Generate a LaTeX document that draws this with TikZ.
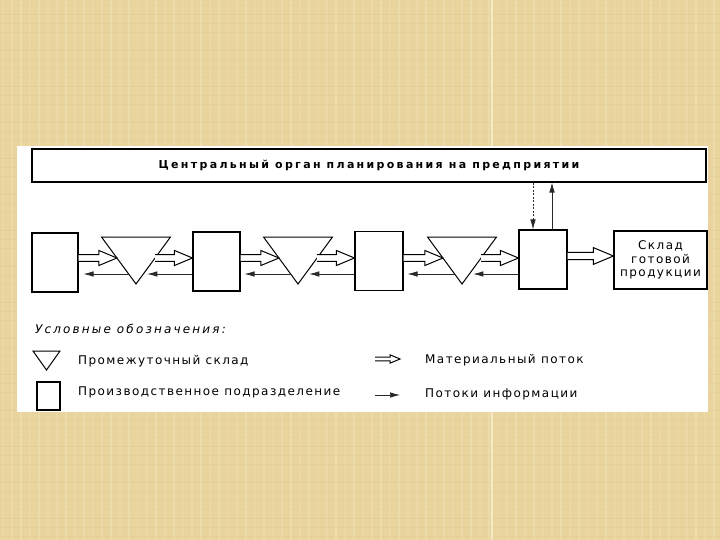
\documentclass[tikz,border=0pt]{standalone}
\usepackage{fontspec}
\setmainfont{DejaVu Sans}
\newfontfamily\diafont{DejaVu Sans}[LetterSpace=12]
\newfontfamily\legitfont{DejaVu Sans}[LetterSpace=18]
\newfontfamily\planfont{DejaVu Sans}[LetterSpace=21]
\usetikzlibrary{arrows.meta,calc}
\definecolor{papyrus}{RGB}{233,212,157}
\definecolor{papyruslight}{RGB}{245,234,198}
\definecolor{papyrusdark}{RGB}{216,189,130}
\definecolor{inkgray}{RGB}{40,40,40}
% hollow material-flow arrow: [head length]{start}{tip}
\newcommand{\matarrow}[3][18]{%
  \draw[matline] ($(#2)+(0,-#1/5.5)$) -- ($(#3)+(-#1,-#1/5.5)$) -- ($(#3)+(-#1,-#1/2.4)$)
    -- (#3) -- ($(#3)+(-#1,#1/2.4)$) -- ($(#3)+(-#1,#1/5.5)$) -- ($(#2)+(0,#1/5.5)$);}

\begin{document}
\begin{tikzpicture}[x=1pt,y=-1pt,
    box/.style={draw=black,line width=1.1pt,fill=white,inner sep=0pt,minimum width=47pt,minimum height=59pt},
    tri/.style={draw=black,line width=1pt,fill=white,line join=miter},
    matline/.style={draw=black,line width=1pt,fill=white,line join=miter},
    info/.style={draw=inkgray,line width=0.7pt,-{Latex[length=10pt,width=5.5pt]}},
    txt/.style={font=\diafont\fontsize{12}{14}\selectfont,anchor=base west,inner sep=0pt}]
  \useasboundingbox (0,0) rectangle (720,540);
  % background
  \fill[papyrus] (0,0) rectangle (720,540);
  \foreach \i in {0,...,79} {
    \pgfmathsetmacro\op{0.15+0.3*mod(\i*7,5)/5}
    \draw[papyruslight,line width=1.2pt,opacity=\op] (\i*9+3,0) -- (\i*9+3,540);
  }
  \foreach \i in {0,...,59} {
    \pgfmathsetmacro\op{0.1+0.2*mod(\i*3,4)/4}
    \draw[papyrusdark,line width=0.8pt,opacity=\op] (0,\i*9+5) -- (720,\i*9+5);
  }
  \draw[papyruslight,line width=2pt] (492,0) -- (492,540);
  \fill[white] (17,146) rectangle (708,412);

  % planning body
  \node[draw=black,line width=1.1pt,fill=white,minimum width=674pt,minimum height=33pt,inner sep=0pt,
        font=\planfont\bfseries\fontsize{11}{13}\selectfont] (plan) at (369,165.5)
        {Центральный орган планирования на предприятии};

  % production units and store
  \node[box,minimum width=46pt] (b1) at (55,262.5) {};
  \node[box] (b2) at (216.5,261.5) {};
  \node[box,minimum width=48pt] (b3) at (379,261) {};
  \node[box,minimum width=48pt] (b4) at (543,259.5) {};
  \node[box,minimum width=93pt,minimum height=58pt,align=center,
        font=\diafont\fontsize{12}{13.5}\selectfont] (sklad) at (660.5,260)
        {Склад\\готовой\\продукции};

  % intermediate stores
  \foreach \n/\cx in {1/136,2/298,3/462} {
    \coordinate (t\n) at (\cx,237);
    \draw[tri] ($(t\n)+(-34.5,0)$) -- ($(t\n)+(34.5,0)$) -- ($(t\n)+(0,47)$) -- cycle;
    \coordinate (t\n-l) at ($(t\n)+(-19.1,21)$);
    \coordinate (t\n-r) at ($(t\n)+(19.1,21)$);
    \coordinate (t\n-il) at ($(t\n)+(-7.3,37)$);
    \coordinate (t\n-ir) at ($(t\n)+(7.3,37)$);
  }

  % material flow
  \matarrow{b1.east |- t1-l}{t1-l}
  \matarrow{t1-r}{b2.west |- t1-r}
  \matarrow{b2.east |- t2-l}{t2-l}
  \matarrow{t2-r}{b3.west |- t2-r}
  \matarrow{b3.east |- t3-l}{t3-l}
  \matarrow{t3-r}{b4.west |- t3-r}
  \coordinate (b4-out) at ($(b4.east)+(0,-3.5)$);
  \matarrow[20]{b4-out}{b4-out -| sklad.west}

  % information flow
  \draw[info,shorten >=4pt] (b2.west |- t1-ir) -- (t1-ir);
  \draw[info,shorten >=5pt] (t1-il) -- (b1.east |- t1-il);
  \draw[info,shorten >=4pt] (b3.west |- t2-ir) -- (t2-ir);
  \draw[info,shorten >=4pt] (t2-il) -- (b2.east |- t2-il);
  \draw[info,shorten >=4pt] (b4.west |- t3-ir) -- (t3-ir);
  \draw[info,shorten >=4pt] (t3-il) -- (b3.east |- t3-il);
  \coordinate (down) at ($(b4.north)+(-10,0)$);
  \coordinate (up) at ($(b4.north)+(9,0)$);
  \draw[info,dash pattern=on 2pt off 1.5pt] (down |- plan.south) -- (down);
  \draw[info] (up) -- (up |- plan.south);

  % legend
  \node[txt,font=\legitfont\itshape\fontsize{12}{14}\selectfont] (legend) at (35,333) {Условные обозначения:};
  \coordinate (lt) at (46.5,351);
  \draw[tri] ($(lt)+(-13.5,0)$) -- ($(lt)+(13.5,0)$) -- ($(lt)+(0,19)$) -- cycle;
  \node[txt] (lt-text) at (78,364) {Промежуточный склад};
  \node[box,minimum width=23pt,minimum height=28pt] (lb) at (48.5,396) {};
  \node[txt] (lb-text) at (78,395) {Производственное подразделение};
  \coordinate (lm-s) at (375,359);
  \coordinate (lm-e) at (400,359);
  \matarrow[10]{lm-s}{lm-e}
  \node[txt] (lm-text) at (425,363) {Материальный поток};
  \coordinate (li-s) at (375,395);
  \coordinate (li-e) at (400,395);
  \draw[info] (li-s) -- (li-e);
  \node[txt] (li-text) at (425,397) {Потоки информации};
\end{tikzpicture}
\end{document}
